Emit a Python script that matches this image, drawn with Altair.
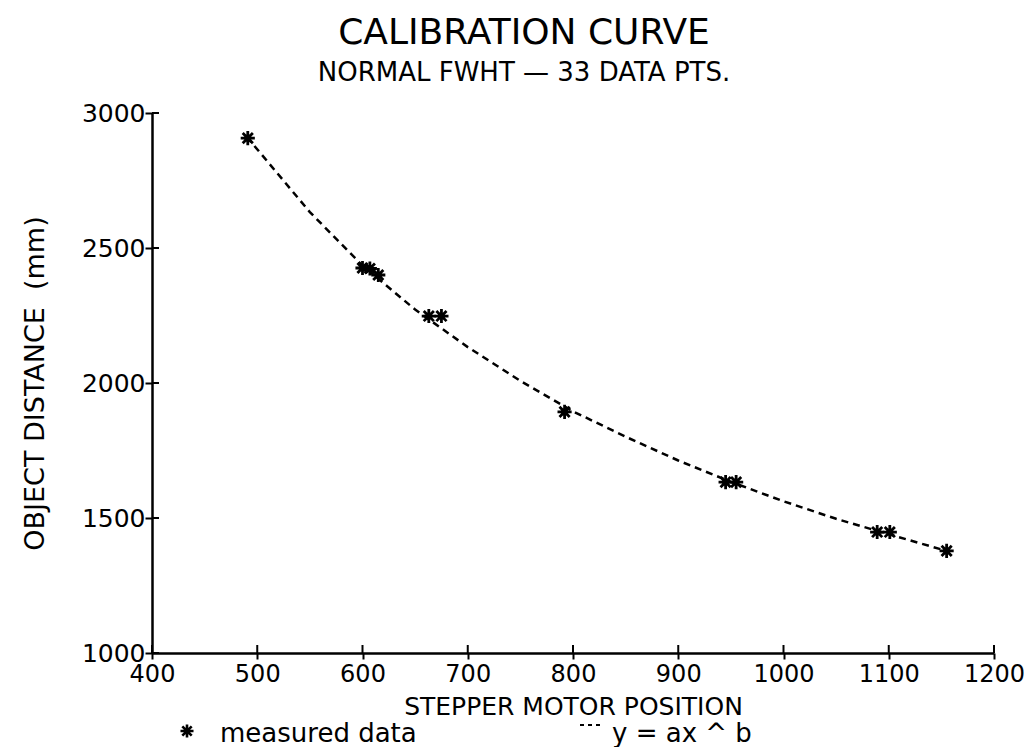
import altair as alt
import pandas as pd

motor_pos = [491, 600, 607, 615, 663, 675, 792, 945, 955, 1089, 1101, 1155]
distance = [2907, 2426, 2424, 2400, 2248, 2248, 1893, 1633, 1633, 1448, 1448, 1378]

# dashed fitted curve y = a x^-b
curve_x = [490, 550, 600, 650, 700, 750, 800, 850, 900, 950, 1000, 1050, 1100, 1155]
curve_y = [2912, 2633, 2435, 2272, 2133, 2008, 1895, 1801, 1713, 1634, 1562, 1497, 1440, 1378]

x_ticks = [400, 500, 600, 700, 800, 900, 1000, 1100, 1200]
y_ticks = [1000, 1500, 2000, 2500, 3000]

FONT = "DejaVu Sans, sans-serif"
ASTERISK = "M-1,0L1,0M0,-1L0,1M-0.72,-0.72L0.72,0.72M-0.72,0.72L0.72,-0.72"

pts = pd.DataFrame({"x": motor_pos, "y": distance})
curve = pd.DataFrame({"x": curve_x, "y": curve_y})
xt = pd.DataFrame({"v": x_ticks})
yt = pd.DataFrame({"v": y_ticks})

xscale = alt.Scale(domain=[400, 1200], nice=False, zero=False)
yscale = alt.Scale(domain=[1000, 3000], nice=False, zero=False)

xaxis = alt.Axis(values=x_ticks, format="d", title="STEPPER MOTOR POSITION", grid=False,
                 domainColor="black", domainWidth=2.5, tickColor="black", tickWidth=2,
                 tickSize=6, labelPadding=3, labelFontSize=24, labelFont=FONT,
                 labelColor="black", titleFont=FONT, titleFontSize=25, titleFontWeight="normal",
                 titleColor="black", titlePadding=8, labelFlush=False, labelOverlap=False)
yaxis = alt.Axis(values=y_ticks, format="d", title="OBJECT DISTANCE\u00a0\u00a0(mm)", grid=False,
                 domainColor="black", domainWidth=2.5, tickColor="black", tickWidth=2,
                 tickSize=7, labelPadding=0, labelFontSize=25, labelFont=FONT,
                 labelColor="black", titleFont=FONT, titleFontSize=27, titleFontWeight="normal",
                 titleColor="black", titlePadding=32, labelFlush=False, labelOverlap=False)

line = alt.Chart(curve).mark_line(color="black", strokeWidth=2.5, strokeDash=[7, 5]).encode(
    x=alt.X("x:Q", scale=xscale, axis=xaxis),
    y=alt.Y("y:Q", scale=yscale, axis=yaxis),
)

points = alt.Chart(pts).mark_point(shape=ASTERISK, filled=False, color="black",
                                   strokeWidth=2.8, size=200, opacity=1).encode(
    x=alt.X("x:Q", scale=xscale),
    y=alt.Y("y:Q", scale=yscale),
)

xin = alt.Chart(xt).mark_rule(color="black", strokeWidth=2).encode(
    x=alt.X("v:Q", scale=xscale), y=alt.value(540), y2=alt.value(532))
yin = alt.Chart(yt).mark_rule(color="black", strokeWidth=2).encode(
    y=alt.Y("v:Q", scale=yscale), x=alt.value(0), x2=alt.value(7))

legend_df = pd.DataFrame({"a": [0]})
leg_sym = alt.Chart(legend_df).mark_point(shape=ASTERISK, filled=False, color="black",
                                          strokeWidth=2.6, size=170, opacity=1).encode(
    x=alt.value(35), y=alt.value(618))
leg_txt1 = alt.Chart(legend_df).mark_text(text="measured data", font=FONT, fontSize=26,
                                          align="left", baseline="middle", color="black").encode(
    x=alt.value(68), y=alt.value(621))
leg_dash = alt.Chart(legend_df).mark_rule(color="black", strokeWidth=2, strokeDash=[4, 4]).encode(
    x=alt.value(428), x2=alt.value(449), y=alt.value(612))
leg_txt2 = alt.Chart(legend_df).mark_text(text="y = ax ^ b", font=FONT, fontSize=26,
                                          align="left", baseline="middle", color="black").encode(
    x=alt.value(460), y=alt.value(621))

chart = alt.layer(line, points, xin, yin, leg_sym, leg_txt1, leg_dash, leg_txt2).properties(
    width=842, height=540,
    background="white",
    padding={"left": 144, "top": 105, "right": 30, "bottom": 94},
    autosize=alt.AutoSizeParams(type="none"),
    title=alt.TitleParams(text="CALIBRATION CURVE", subtitle="NORMAL FWHT — 33 DATA PTS.",
                          font=FONT, fontSize=36, fontWeight="normal", color="black",
                          subtitleFont=FONT, subtitleFontSize=26, subtitleColor="black",
                          subtitlePadding=8, anchor="middle", dx=-49, offset=14),
).configure_view(stroke=None)

chart.save("out.html", embed_options={"renderer": "svg", "actions": False})
